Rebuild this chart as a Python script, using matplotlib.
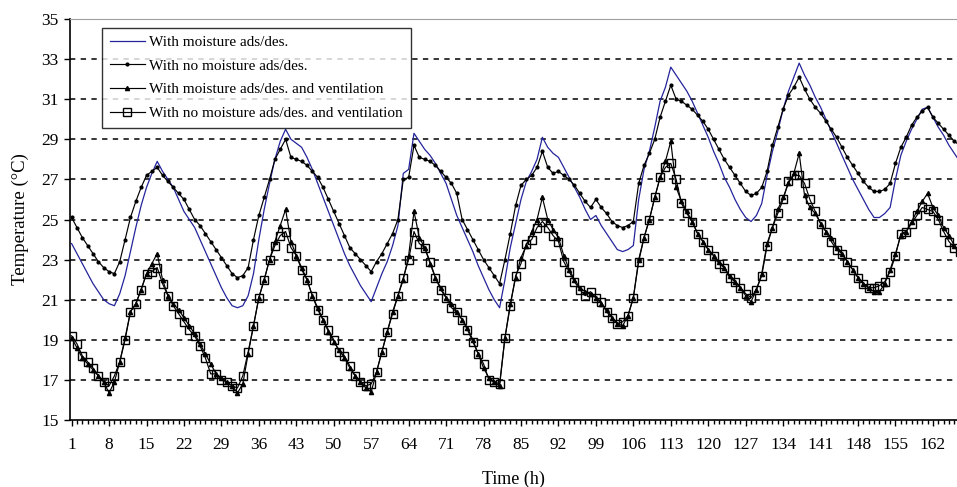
import numpy as np
import matplotlib
matplotlib.use("Agg")
import matplotlib.pyplot as plt
from matplotlib.ticker import MultipleLocator, FixedLocator

plt.rcParams['font.family'] = ['Liberation Serif', 'DejaVu Serif']

hours = list(range(1, 169))
xtick_labels = list(range(1, 163, 7))

# With moisture ads/des.
with_moist = [23.8, 23.3, 22.8, 22.3, 21.8, 21.4, 21.0, 20.8, 20.7, 21.3, 22.2, 23.4, 24.6, 25.7, 26.6, 27.3, 27.9,
              27.4, 27.0, 26.6, 26.0, 25.4, 25.0, 24.6, 24.0, 23.4, 22.8, 22.2, 21.6, 21.1, 20.7, 20.6,
              20.7, 21.2, 22.3, 24.0, 25.5, 26.8, 28.0, 28.9, 29.5,
              29.0, 28.8, 28.6, 28.1, 27.5, 26.8, 26.1, 25.4, 24.7, 24.0, 23.3, 22.7, 22.2, 21.7, 21.3, 20.9,
              21.6, 22.3, 22.9, 23.7, 24.7, 27.3, 27.5, 29.3,
              28.9, 28.5, 28.2, 27.8, 27.3, 26.8, 26.0, 25.2, 24.6, 24.0, 23.4, 22.7, 22.1, 21.5, 21.0, 20.6,
              22.0, 23.6, 24.8, 26.0, 26.9, 27.4, 28.0, 29.1,
              28.6, 28.3, 28.1, 27.6, 27.1, 26.6, 26.1, 25.5, 25.0, 25.2, 24.7, 24.3, 23.9, 23.5, 23.4,
              23.5, 23.7, 26.0, 27.5, 28.4, 29.6, 30.9, 31.6, 32.6,
              32.2, 31.8, 31.4, 30.9, 30.3, 29.7, 29.1, 28.4, 27.8, 27.1, 26.6, 26.0, 25.5, 25.1, 24.9,
              25.2, 25.8, 27.2, 28.4, 29.4, 30.5, 31.4, 32.1, 32.8,
              32.2, 31.7, 31.1, 30.6, 30.0, 29.4, 28.8, 28.2, 27.6, 27.0, 26.5, 26.0, 25.5, 25.1, 25.1,
              25.3, 25.6, 27.0, 28.2, 28.9, 29.5, 30.0, 30.5, 30.6,
              30.1, 29.6, 29.2, 28.7, 28.3, 27.9, 27.6]

# With no moisture ads/des.
no_moist = [25.1, 24.6, 24.1, 23.7, 23.3, 22.9, 22.6, 22.4, 22.3, 22.9, 24.0, 25.1, 25.9, 26.6, 27.2, 27.4, 27.6,
            27.2, 26.9, 26.6, 26.3, 26.0, 25.5, 25.0, 24.7, 24.3, 23.9, 23.5, 23.1, 22.7, 22.3, 22.1,
            22.2, 22.6, 24.0, 25.2, 26.1, 27.0, 28.0, 28.5, 29.0,
            28.1, 28.0, 27.9, 27.7, 27.4, 27.1, 26.6, 26.0, 25.4, 24.8, 24.2, 23.6, 23.3, 23.0, 22.7, 22.4,
            22.9, 23.3, 23.8, 24.3, 25.0, 27.0, 27.1, 28.7,
            28.1, 28.0, 27.9, 27.7, 27.4, 27.1, 26.8, 26.3, 25.0, 24.5, 24.0, 23.5, 23.0, 22.6, 22.2, 21.8,
            23.0, 24.3, 25.7, 26.7, 27.0, 27.2, 27.6, 28.4,
            27.6, 27.3, 27.4, 27.2, 27.0, 26.7, 26.3, 25.9, 25.6, 26.0, 25.6, 25.3, 24.9, 24.7, 24.6,
            24.7, 24.9, 26.8, 27.7, 28.3, 29.0, 30.1, 30.9, 31.7,
            31.0, 30.9, 30.7, 30.5, 30.2, 29.9, 29.5, 29.0, 28.5, 28.0, 27.6, 27.2, 26.8, 26.4, 26.2,
            26.3, 26.6, 27.4, 28.7, 29.6, 30.5, 31.2, 31.6, 32.1,
            31.5, 31.0, 30.6, 30.3, 29.9, 29.5, 29.1, 28.6, 28.1, 27.7, 27.3, 26.9, 26.6, 26.4, 26.4,
            26.5, 26.8, 27.8, 28.6, 29.1, 29.7, 30.1, 30.4, 30.6,
            30.1, 29.8, 29.5, 29.2, 28.9, 28.7, 28.5]

# With moisture ads/des. and ventilation
moist_vent = [19.1, 18.6, 18.1, 17.8, 17.5, 17.2, 16.9, 16.35, 16.9, 17.9, 19.1, 20.4, 20.8, 21.5, 22.3, 22.8, 23.3,
              22.0, 21.2, 20.8, 20.5, 20.1, 19.7, 19.3, 18.8, 18.3, 17.8, 17.3, 17.1, 16.9, 16.7, 16.35,
              16.8, 18.3, 19.7, 21.1, 22.0, 23.0, 23.9, 24.7, 25.5,
              23.9, 23.2, 22.6, 22.0, 21.2, 20.6, 20.0, 19.4, 18.9, 18.5, 18.1, 17.6, 17.2, 16.9, 16.6, 16.4,
              17.4, 18.4, 19.4, 20.4, 21.2, 22.0, 23.2, 25.4,
              24.1, 23.6, 22.8, 22.1, 21.6, 21.1, 20.8, 20.4, 20.0, 19.6, 19.0, 18.3, 17.6, 17.1, 16.9, 16.7,
              19.1, 20.8, 22.1, 23.1, 23.7, 24.4, 25.0, 26.1,
              25.0, 24.5, 24.1, 23.2, 22.5, 22.0, 21.6, 21.4, 21.3, 21.1, 20.8, 20.5, 20.1, 19.8, 19.7,
              20.2, 21.1, 23.0, 24.1, 25.0, 26.1, 27.1, 27.9, 28.9,
              26.6, 25.9, 25.4, 24.9, 24.3, 23.9, 23.5, 23.2, 22.9, 22.6, 22.2, 21.9, 21.6, 21.2, 20.9,
              21.5, 22.3, 23.8, 24.6, 25.5, 26.1, 26.8, 27.3, 28.3,
              26.2, 25.6, 25.3, 24.8, 24.4, 24.1, 23.6, 23.3, 22.9, 22.5, 22.1, 21.8, 21.6, 21.4, 21.4,
              21.8, 22.5, 23.3, 24.2, 24.4, 24.9, 25.4, 25.9, 26.3,
              25.6, 25.2, 24.6, 24.2, 23.7, 23.4, 23.2]

# With no moisture ads/des. and ventilation
no_moist_vent = [19.2, 18.8, 18.2, 17.9, 17.6, 17.2, 16.9, 16.7, 17.2, 17.9, 19.0, 20.4, 20.8, 21.5, 22.3, 22.4, 22.6,
                 21.8, 21.2, 20.7, 20.3, 19.9, 19.5, 19.2, 18.7, 18.1, 17.3, 17.3, 17.0, 16.9, 16.7, 16.6,
                 17.2, 18.4, 19.7, 21.1, 22.0, 23.0, 23.7, 24.2, 24.4,
                 23.6, 23.2, 22.5, 22.0, 21.2, 20.5, 20.0, 19.5, 19.0, 18.4, 18.2, 17.7, 17.2, 16.9, 16.7, 16.8,
                 17.4, 18.4, 19.4, 20.3, 21.2, 22.1, 23.0, 24.4,
                 23.8, 23.6, 22.9, 22.1, 21.5, 21.1, 20.6, 20.4, 20.0, 19.5, 18.9, 18.3, 17.8, 17.0, 16.9, 16.8,
                 19.1, 20.7, 22.2, 22.8, 23.8, 24.0, 24.6, 24.9,
                 24.6, 24.2, 23.9, 22.9, 22.4, 21.9, 21.5, 21.2, 21.4, 21.1, 20.9, 20.4, 20.1, 19.8, 19.9,
                 20.2, 21.1, 22.9, 24.1, 25.0, 26.1, 27.1, 27.6, 27.8,
                 27.0, 25.8, 25.3, 24.9, 24.3, 23.9, 23.5, 23.2, 22.8, 22.6, 22.1, 21.9, 21.6, 21.3, 21.1,
                 21.5, 22.2, 23.7, 24.6, 25.3, 26.0, 26.9, 27.2, 27.2,
                 26.8, 26.0, 25.4, 24.8, 24.4, 23.9, 23.5, 23.3, 22.9, 22.5, 22.1, 21.8, 21.6, 21.6, 21.7,
                 21.9, 22.4, 23.2, 24.3, 24.4, 24.8, 25.2, 25.6, 25.5,
                 25.4, 25.0, 24.4, 23.9, 23.6, 23.4, 23.2]

fig = plt.figure(figsize=(9.57, 4.87), dpi=100)
ax = fig.add_axes([70 / 957, 67 / 487, 887 / 957, 401 / 487])

ax.plot(hours, with_moist, color='#24249c', lw=0.9, label='With moisture ads/des.')
ax.plot(hours, no_moist, color='black', lw=0.85, marker='o', ms=2.0,
        label='With no moisture ads/des.')
ax.plot(hours, moist_vent, color='black', lw=0.85, marker='^', ms=3.0,
        label='With moisture ads/des. and ventilation')
ax.plot(hours, no_moist_vent, color='black', lw=0.85, marker='s', ms=5.5, mfc='none', mew=1.0,
        label='With no moisture ads/des. and ventilation')

ax.set_xlim(0.7, 166.5)
ax.set_ylim(15, 35)
ax.set_yticks(range(15, 36, 2))
ax.set_xticks(xtick_labels)
ax.xaxis.set_minor_locator(FixedLocator(hours))
ax.tick_params(axis='y', which='major', direction='out', length=4, width=1, labelsize=12.5, pad=4)
ax.tick_params(axis='x', which='major', direction='out', length=4, width=1, labelsize=12.5, pad=8)
ax.tick_params(axis='x', which='minor', direction='out', length=3, width=1)

for v in range(17, 35, 2):
    ax.axhline(v, color='black', lw=1.1, ls=(0, (3.5, 3.5)), zorder=0)

ax.spines['right'].set_visible(False)
ax.spines['top'].set_color('#a0a0a0')
ax.spines['left'].set_linewidth(1.2)
ax.spines['bottom'].set_linewidth(1.2)

ax.set_xlabel('Time (h)', fontsize=13, labelpad=13)
ax.set_ylabel('Temperature (°C)', fontsize=13.5, labelpad=9)

leg = ax.legend(loc='upper left', bbox_to_anchor=(0.036, 0.978), borderaxespad=0,
                fontsize=11, frameon=True, fancybox=False, edgecolor='black',
                handlelength=2.3, labelspacing=0.65, borderpad=0.5, handletextpad=0.3)
leg.get_frame().set_linewidth(1.0)

fig.savefig('out.png', dpi=100)
